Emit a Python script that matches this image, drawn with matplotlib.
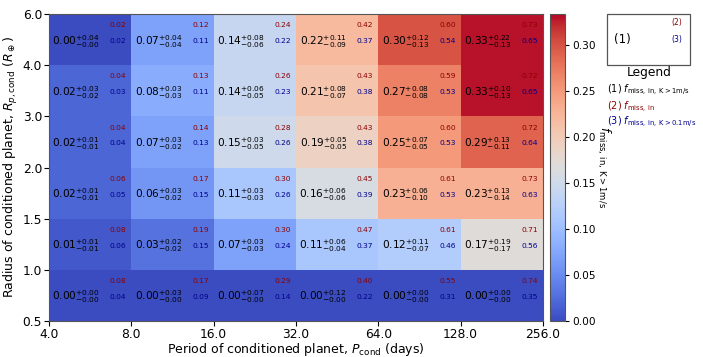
import numpy as np
import matplotlib
matplotlib.use("Agg")
import matplotlib.pyplot as plt
from matplotlib.patches import Rectangle

# Bin edges
period_edges = [4.0, 8.0, 16.0, 32.0, 64.0, 128.0, 256.0]
radius_edges = [0.5, 1.0, 1.5, 2.0, 3.0, 4.0, 6.0]

# Values, rows from bottom (0.5-1.0) to top (4.0-6.0), columns by period
f_main = [
    [0.00, 0.00, 0.00, 0.00, 0.00, 0.00],
    [0.01, 0.03, 0.07, 0.11, 0.12, 0.17],
    [0.02, 0.06, 0.11, 0.16, 0.23, 0.23],
    [0.02, 0.07, 0.15, 0.19, 0.25, 0.29],
    [0.02, 0.08, 0.14, 0.21, 0.27, 0.33],
    [0.00, 0.07, 0.14, 0.22, 0.30, 0.33],
]
f_up = [
    [0.00, 0.03, 0.07, 0.12, 0.00, 0.00],
    [0.01, 0.02, 0.03, 0.06, 0.11, 0.19],
    [0.01, 0.03, 0.03, 0.06, 0.06, 0.13],
    [0.01, 0.03, 0.03, 0.05, 0.07, 0.13],
    [0.03, 0.03, 0.06, 0.08, 0.08, 0.10],
    [0.04, 0.04, 0.08, 0.11, 0.12, 0.22],
]
f_lo = [
    [0.00, 0.00, 0.00, 0.00, 0.00, 0.00],
    [0.01, 0.02, 0.03, 0.04, 0.07, 0.17],
    [0.01, 0.02, 0.03, 0.06, 0.10, 0.14],
    [0.01, 0.02, 0.05, 0.05, 0.05, 0.11],
    [0.02, 0.03, 0.05, 0.07, 0.08, 0.13],
    [0.00, 0.04, 0.06, 0.09, 0.13, 0.13],
]
f_all = [
    [0.08, 0.17, 0.29, 0.40, 0.55, 0.74],
    [0.08, 0.19, 0.30, 0.47, 0.61, 0.71],
    [0.06, 0.17, 0.30, 0.45, 0.61, 0.73],
    [0.04, 0.14, 0.28, 0.43, 0.60, 0.72],
    [0.04, 0.13, 0.26, 0.43, 0.59, 0.72],
    [0.02, 0.12, 0.24, 0.42, 0.60, 0.73],
]
f_low_k = [
    [0.04, 0.09, 0.14, 0.22, 0.31, 0.35],
    [0.06, 0.15, 0.24, 0.37, 0.46, 0.56],
    [0.05, 0.15, 0.26, 0.39, 0.53, 0.63],
    [0.04, 0.13, 0.26, 0.38, 0.53, 0.64],
    [0.03, 0.11, 0.23, 0.38, 0.53, 0.65],
    [0.02, 0.11, 0.22, 0.37, 0.54, 0.65],
]

main = np.array(f_main)
nrow, ncol = main.shape

fig = plt.figure(figsize=(7.03, 3.57), dpi=100)
ax = fig.add_axes([0.0697, 0.1008, 0.7027, 0.8600])
cax = fig.add_axes([0.7824, 0.1008, 0.0213, 0.8600])

mesh = ax.pcolormesh(np.arange(ncol + 1), np.arange(nrow + 1), main,
                     cmap="coolwarm", vmin=0.0, vmax=0.334)

for i in range(nrow):
    for j in range(ncol):
        ax.text(j + 0.33, i + 0.47,
                r"$%.2f^{+%.2f}_{-%.2f}$" % (f_main[i][j], f_up[i][j], f_lo[i][j]),
                ha="center", va="center", fontsize=7.6, color="black")
        ax.text(j + 0.84, i + 0.78, "%.2f" % f_all[i][j],
                ha="center", va="center", fontsize=5.4, color="darkred")
        ax.text(j + 0.84, i + 0.47, "%.2f" % f_low_k[i][j],
                ha="center", va="center", fontsize=5.4, color="darkblue")

ax.set_xlim(0, ncol)
ax.set_ylim(0, nrow)
ax.set_xticks(np.arange(ncol + 1))
ax.set_xticklabels(["%.1f" % p for p in period_edges])
ax.set_yticks(np.arange(nrow + 1))
ax.set_yticklabels(["%.1f" % r for r in radius_edges])
ax.tick_params(labelsize=8.8, length=3.5, pad=1.5)
for s in ax.spines.values():
    s.set_color("#555555")
ax.set_xlabel(r"Period of conditioned planet, $P_{\rm cond}$ (days)", fontsize=9, labelpad=0)
ax.set_ylabel(r"Radius of conditioned planet, $R_{p,\rm cond}$ ($R_\oplus$)", fontsize=9, labelpad=2)

cb = fig.colorbar(mesh, cax=cax)
cb.set_ticks([0.0, 0.05, 0.10, 0.15, 0.20, 0.25, 0.30])
cb.ax.tick_params(labelsize=7.6, length=3, pad=2)
cb.outline.set_edgecolor("#555555")
cb.set_label(r"$f_{\rm miss,\,in,\,K>1m/s}$", rotation=270, fontsize=8.8, labelpad=12)

# Legend box
fig.patches.append(Rectangle((0.863, 0.818), 0.118, 0.143, transform=fig.transFigure,
                             fill=False, edgecolor="#555555", linewidth=0.9))
fig.text(0.886, 0.888, "(1)", ha="center", va="center", fontsize=8.5, color="black")
fig.text(0.963, 0.936, "(2)", ha="center", va="center", fontsize=5.5, color="darkred")
fig.text(0.963, 0.888, "(3)", ha="center", va="center", fontsize=5.5, color="darkblue")
fig.text(0.923, 0.796, "Legend", ha="center", va="center", fontsize=8.8)
fig.text(0.864, 0.748, r"(1) $f_{\rm miss,\,in,\,K>1m/s}$", ha="left", va="center", fontsize=7, color="black")
fig.text(0.864, 0.700, r"(2) $f_{\rm miss,\,in}$", ha="left", va="center", fontsize=7, color="darkred")
fig.text(0.864, 0.658, r"(3) $f_{\rm miss,\,in,\,K>0.1m/s}$", ha="left", va="center", fontsize=7, color="darkblue")

fig.savefig("out.png", dpi=100)
